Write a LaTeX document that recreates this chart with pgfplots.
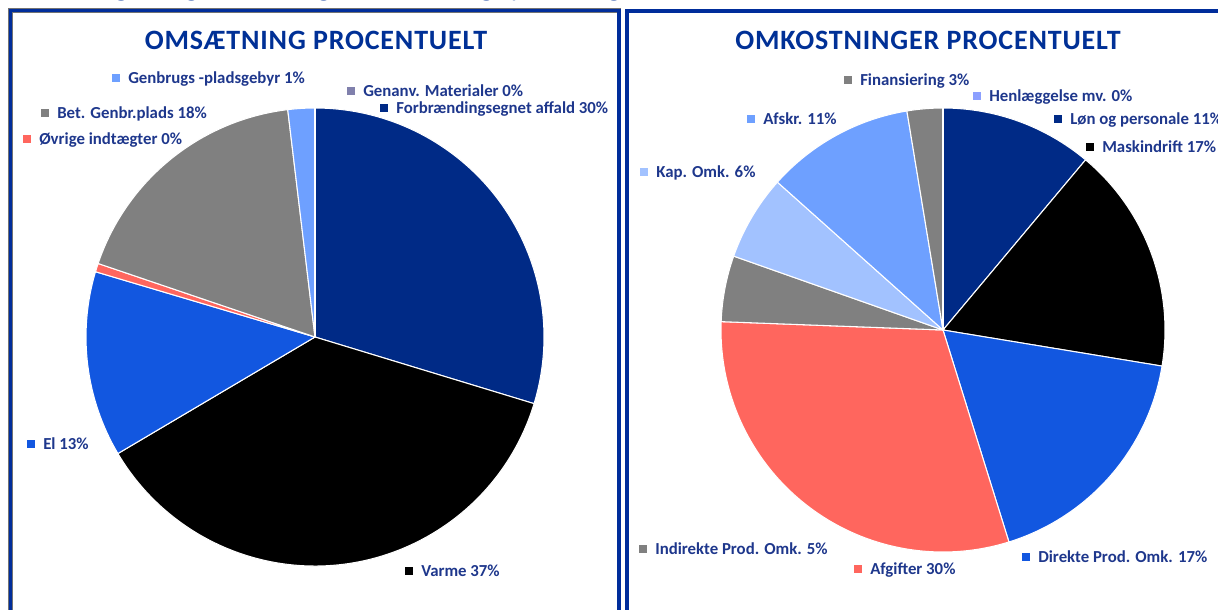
\documentclass[border=0pt]{standalone}
\usepackage{pgfplots}
\pgfplotsset{compat=1.18}
\usepackage{pgfplotstable}
\usepackage{fontspec}
\setmainfont{Carlito}
\newfontfamily\titlefont[LetterSpace=3]{Carlito}

\definecolor{cNavy}{RGB}{0,42,134}
\definecolor{cBlue}{RGB}{18,87,224}
\definecolor{cRed}{RGB}{255,102,94}
\definecolor{cGray}{RGB}{128,128,128}
\definecolor{cLight}{RGB}{110,160,255}
\definecolor{cLighter}{RGB}{162,194,255}
\definecolor{cLav}{RGB}{128,128,172}
\definecolor{cPeri}{RGB}{140,160,255}
\definecolor{cText}{RGB}{30,55,140}
\definecolor{cTitle}{RGB}{0,48,150}
\definecolor{cFrame}{RGB}{0,45,155}

% Omsætning procentuelt (clockwise from 12 o'clock)
\pgfplotstableread[col sep=comma]{
value,color
29.7,cNavy
36.8,black
13.1,cBlue
0.6,cRed
17.9,cGray
1.9,cLight
0,cLav
}\omsdata

% Omkostninger procentuelt (clockwise from 12 o'clock)
\pgfplotstableread[col sep=comma]{
value,color
11.1,cNavy
16.5,black
17.6,cBlue
30.4,cRed
4.8,cGray
6.2,cLighter
10.8,cLight
2.6,cGray
0,cPeri
}\omkdata

\protected\def\pieslice#1#2#3#4#5#6{%
  \filldraw[fill=#6, draw=white, line width=0.8pt, line join=round]
    (axis cs:#1,#2) -- ++({#4}:{#3*0.75pt})
    arc[start angle=#4, end angle=#5, radius=#3*0.75pt] -- cycle;}

\gdef\slices{}
\newcommand\buildpie[4]{%
  \pgfplotstablegetrowsof{#1}%
  \pgfmathtruncatemacro\nrows{\pgfplotsretval-1}%
  \gdef\cum{0}%
  \foreach \i in {0,...,\nrows}{%
    \pgfplotstablegetelem{\i}{value}\of{#1}\let\sval\pgfplotsretval
    \pgfplotstablegetelem{\i}{color}\of{#1}\let\scol\pgfplotsretval
    \pgfmathsetmacro\sa{90-3.6*\cum}%
    \pgfmathsetmacro\ea{90-3.6*(\cum+\sval)}%
    \pgfmathsetmacro\nc{\cum+\sval}\xdef\cum{\nc}%
    \xdef\slices{\slices\pieslice{#2}{#3}{#4}{\sa}{\ea}{\scol}}%
  }%
}

\newcommand\lbl[4]{%
  \path (axis cs:#1,#2) node[fill=#3, minimum size=6pt, inner sep=0pt]{}
    ++(9pt,-3.9pt) node[anchor=base west, inner sep=0pt, text=cText,
      font=\bfseries\fontsize{12.6}{14}\selectfont]{#4};}

\begin{document}
\buildpie{\omsdata}{315}{337}{229}%
\buildpie{\omkdata}{943}{330}{222}%
\begin{tikzpicture}
\path[use as bounding box] (0,0) rectangle (913.5pt,457.5pt);
\begin{axis}[at={(0,0)}, anchor=south west, scale only axis,
  x=0.75pt, y=0.75pt, xmin=0, xmax=1218, ymin=0, ymax=610,
  y dir=reverse, hide axis, clip=false]
\slices
% partly cut-off heading above the panels
\node[anchor=base west, inner sep=0pt, text=cTitle!85!white, font=\fontsize{20}{24}\selectfont] at (axis cs:2,-3) {Omsætningens og omkostningernes fordeling i procent, gennemsnit};
% frames
\draw[line width=3.2pt, black!55] (axis cs:10.5,640) |- (axis cs:619,10.5) -- (axis cs:619,640);
\draw[line width=2.3pt, cFrame] (axis cs:10.5,640) |- (axis cs:619,10.5) -- (axis cs:619,640);
\draw[line width=3.2pt, black!55] (axis cs:627,640) |- (axis cs:1260,11);
\draw[line width=2.3pt, cFrame] (axis cs:627,640) |- (axis cs:1260,11);
% titles
\node[anchor=base, text=cTitle, font=\titlefont\bfseries\fontsize{21}{24}\selectfont] at (axis cs:316,50) {OMSÆTNING PROCENTUELT};
\node[anchor=base, text=cTitle, font=\titlefont\bfseries\fontsize{21}{24}\selectfont] at (axis cs:928,50) {OMKOSTNINGER PROCENTUELT};
% left labels
\lbl{116}{78}{cLight}{Genbrugs -pladsgebyr 1\%}
\lbl{351}{91}{cLav}{Genanv. Materialer 0\%}
\lbl{384}{108}{cNavy}{Forbrændingsegnet affald 30\%}
\lbl{45}{113}{cGray}{Bet. Genbr.plads 18\%}
\lbl{27}{139}{cRed}{Øvrige indtægter 0\%}
\lbl{31}{444}{cBlue}{El 13\%}
\lbl{409}{571}{black}{Varme 37\%}
% right labels
\lbl{848}{80}{cGray}{Finansiering 3\%}
\lbl{977}{96}{cPeri}{Henlæggelse mv. 0\%}
\lbl{751}{119}{cLight}{Afskr. 11\%}
\lbl{1058}{119}{cNavy}{Løn og personale 11\%}
\lbl{1090}{147}{black}{Maskindrift 17\%}
\lbl{644}{172}{cLighter}{Kap. Omk. 6\%}
\lbl{643}{549}{cGray}{Indirekte Prod. Omk. 5\%}
\lbl{858}{569}{cRed}{Afgifter 30\%}
\lbl{1026}{557}{cBlue}{Direkte Prod. Omk. 17\%}
\end{axis}
\end{tikzpicture}
\end{document}
